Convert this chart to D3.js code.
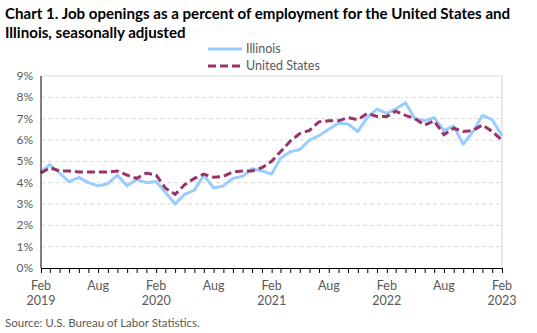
<!DOCTYPE html>
<html>
<head>
<meta charset="utf-8">
<script src="https://cdn.jsdelivr.net/npm/d3@7"></script>
<style>
  body { margin: 0; background: #fff; }
  svg { display: block; font-family: Lato, "Open Sans", sans-serif; }
</style>
</head>
<body>
<script>
// monthly, Feb 2019 .. Feb 2023
var months = d3.timeMonths(new Date(2019, 1, 1), new Date(2023, 2, 1));

var illinois = [4.5, 4.85, 4.45, 4.05, 4.25, 4.0, 3.85, 3.95, 4.35, 3.85, 4.15, 4.0,
  4.05, 3.55, 3.0, 3.45, 3.65, 4.35, 3.75, 3.85, 4.2, 4.3, 4.65, 4.55,
  4.4, 5.15, 5.45, 5.55, 6.0, 6.2, 6.5, 6.8, 6.75, 6.4, 7.05, 7.45,
  7.25, 7.45, 7.75, 7.0, 6.9, 7.05, 6.45, 6.65, 5.8, 6.4, 7.15, 6.95,
  6.2];

var unitedStates = [4.45, 4.7, 4.55, 4.55, 4.5, 4.5, 4.5, 4.5, 4.55, 4.35, 4.2, 4.45,
  4.35, 3.75, 3.45, 3.9, 4.2, 4.4, 4.25, 4.3, 4.5, 4.55, 4.55, 4.7,
  5.0, 5.45, 5.95, 6.3, 6.45, 6.85, 6.9, 6.9, 7.05, 6.95, 7.25, 7.1,
  7.1, 7.35, 7.15, 7.0, 6.7, 6.9, 6.25, 6.55, 6.4, 6.45, 6.7, 6.4,
  6.0];

var yTicks = [0, 1, 2, 3, 4, 5, 6, 7, 8, 9];
var xTickDates = [new Date(2019, 1, 1), new Date(2019, 7, 1), new Date(2020, 1, 1),
  new Date(2020, 7, 1), new Date(2021, 1, 1), new Date(2021, 7, 1), new Date(2022, 1, 1),
  new Date(2022, 7, 1), new Date(2023, 1, 1)];

var width = 537, height = 333;
var margin = {left: 41, right: 35, top: 76, bottom: 65};

var svg = d3.select("body").append("svg")
    .attr("width", width)
    .attr("height", height);

var x = d3.scaleTime()
    .domain([months[0], months[months.length - 1]])
    .range([margin.left, width - margin.right]);

var y = d3.scaleLinear()
    .domain([0, 9])
    .range([height - margin.bottom, margin.top]);

// title
var title = svg.append("text")
    .attr("x", 5)
    .attr("font-weight", "bold")
    .attr("font-size", 15.1)
    .attr("fill", "#000");
title.append("tspan").attr("x", 5).attr("y", 19)
    .text("Chart 1. Job openings as a percent of employment for the United States and");
title.append("tspan").attr("x", 5).attr("y", 38)
    .text("Illinois, seasonally adjusted");

// gridlines
svg.append("g").selectAll("line")
    .data(yTicks.filter(function(d){ return d > 0 && d < 9; }))
    .enter().append("line")
    .attr("x1", margin.left).attr("x2", width - margin.right)
    .attr("y1", function(d){ return y(d); })
    .attr("y2", function(d){ return y(d); })
    .attr("stroke", "#d9d9d9")
    .attr("stroke-dasharray", "4,3");

// top + right border
svg.append("path")
    .attr("d", "M" + margin.left + "," + y(9) + "H" + (width - margin.right) + "V" + y(0))
    .attr("fill", "none")
    .attr("stroke", "#d9d9d9")
    .attr("stroke-width", 1.2);

// y axis labels
svg.append("g").selectAll("text")
    .data(yTicks).enter()
    .append("text")
    .attr("x", margin.left - 8)
    .attr("y", function(d){ return y(d) + 4; })
    .attr("text-anchor", "end")
    .attr("font-size", 12)
    .attr("fill", "#595959")
    .text(function(d){ return d + "%"; });

// lines
var line = function(vals){
  return d3.line()
    .x(function(d, i){ return x(months[i]); })
    .y(function(d){ return y(d); })(vals);
};

svg.append("path")
    .attr("d", line(illinois))
    .attr("fill", "none")
    .attr("stroke", "#99ccff")
    .attr("stroke-width", 3)
    .attr("stroke-linejoin", "round");

svg.append("path")
    .attr("d", line(unitedStates))
    .attr("fill", "none")
    .attr("stroke", "#993366")
    .attr("stroke-width", 3)
    .attr("stroke-dasharray", "8,4");

// axes
svg.append("line")
    .attr("x1", margin.left).attr("x2", margin.left)
    .attr("y1", y(9)).attr("y2", y(0))
    .attr("stroke", "#000");

var xAxis = svg.append("g")
    .attr("transform", "translate(0," + y(0) + ")")
    .call(d3.axisBottom(x).tickValues(months).tickSize(5).tickFormat(""));
xAxis.select(".domain").attr("stroke", "#000").attr("d", "M" + margin.left + ",0.5H" + (width - margin.right));
xAxis.selectAll(".tick line").attr("stroke", "#000");

var labels = svg.append("g").selectAll("text")
    .data(xTickDates).enter()
    .append("text")
    .attr("x", function(d){ return x(d); })
    .attr("text-anchor", "middle")
    .attr("font-size", 12.5)
    .attr("fill", "#595959");
labels.append("tspan")
    .attr("x", function(d){ return x(d); })
    .attr("y", 290)
    .text(d3.timeFormat("%b"));
labels.filter(function(d){ return d.getMonth() === 1; })
    .append("tspan")
    .attr("x", function(d){ return x(d); })
    .attr("y", 305)
    .text(d3.timeFormat("%Y"));

// legend
var legend = svg.append("g").attr("font-size", 12.5).attr("fill", "#595959");
legend.append("line")
    .attr("x1", 208).attr("x2", 242).attr("y1", 49).attr("y2", 49)
    .attr("stroke", "#99ccff").attr("stroke-width", 3);
legend.append("text").attr("x", 246).attr("y", 53).text("Illinois");
legend.append("line")
    .attr("x1", 208).attr("x2", 242).attr("y1", 66).attr("y2", 66)
    .attr("stroke", "#993366").attr("stroke-width", 3)
    .attr("stroke-dasharray", "8,4");
legend.append("text").attr("x", 246).attr("y", 70).text("United States");

// source
svg.append("text")
    .attr("x", 5).attr("y", 327)
    .attr("font-size", 11.5)
    .attr("fill", "#595959")
    .text("Source: U.S. Bureau of Labor Statistics.");
</script>
</body>
</html>
